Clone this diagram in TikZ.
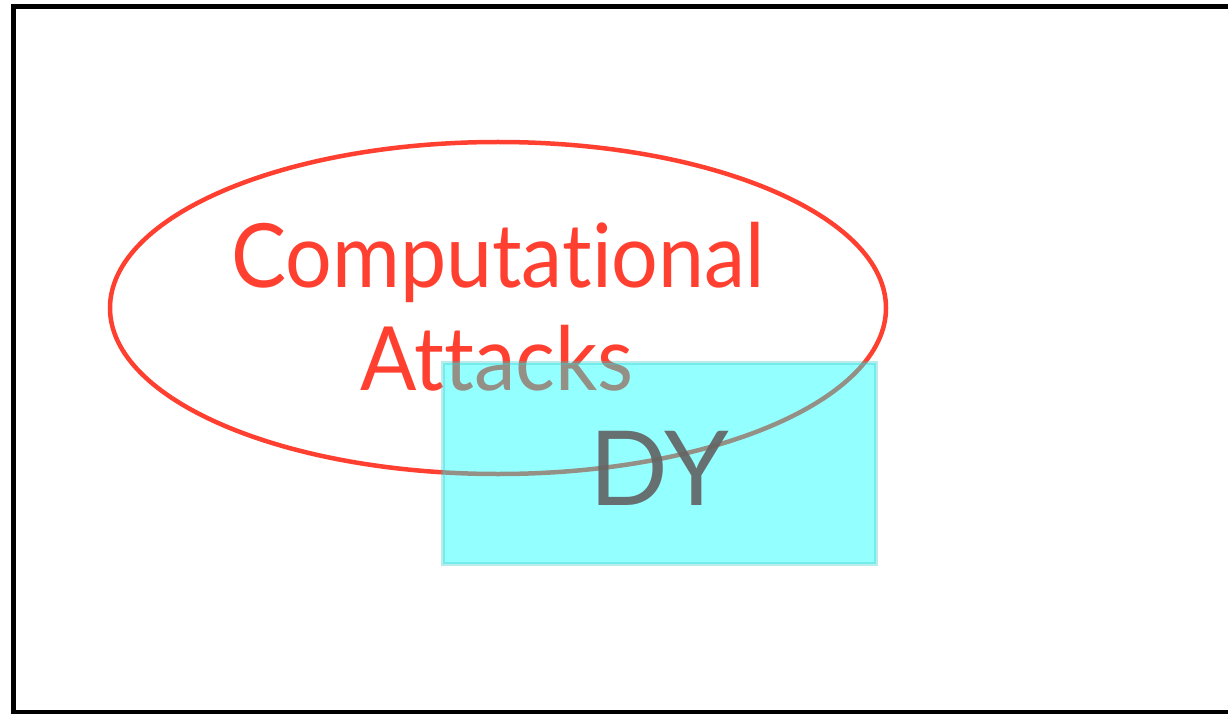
\documentclass[tikz,border=0pt]{standalone}
\usepackage{fontspec}
\usepackage{graphicx}
\setmainfont{Lato}[Ligatures={NoCommon}]
\usetikzlibrary{shapes.geometric}
\definecolor{attred}{RGB}{255,64,48}
\definecolor{dycyan}{RGB}{0,255,255}
\definecolor{dyedge}{RGB}{60,200,200}
\definecolor{dygray}{RGB}{100,100,100}
\tikzset{
  frame/.style={draw=black,line width=5bp},
  attack/.style={draw=attred,line width=4.5bp},
  redtext/.style={text=attred,font=\fontsize{89}{103}\selectfont,inner sep=0pt},
  dybox/.style={fill=dycyan,fill opacity=0.42,draw=dyedge,draw opacity=0.35,line width=4bp},
  dytext/.style={text=dygray,font=\fontsize{104}{104}\selectfont,inner sep=0pt,text opacity=0.92}
}
\begin{document}
\begin{tikzpicture}[x=1bp,y=-1bp]
\useasboundingbox (0,0) rectangle (1228,714);
\draw[frame] (13,6.5) rectangle (1260,712);
\node[attack,ellipse,minimum width=776bp,minimum height=332bp,inner sep=0pt] (ell) at (498,308) {};
\node[redtext,anchor=base] (comp) at (498,287) {\scalebox{0.93}[1]{Computational}};
\node[redtext,anchor=base] (att) at (497,390) {\scalebox{0.94}[1]{Attacks}};
\path[dybox] (443,363) rectangle (876,564);
\node[dytext,anchor=base] (dy) at (659,505) {DY};
\end{tikzpicture}
\end{document}
